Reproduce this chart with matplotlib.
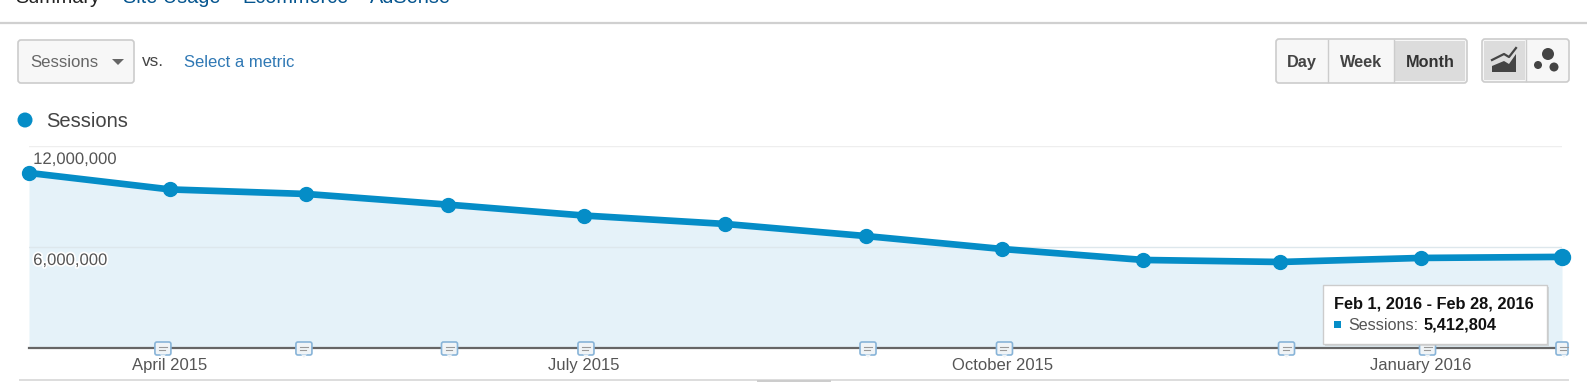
import datetime as dt
import matplotlib
matplotlib.use("Agg")
import matplotlib.pyplot as plt
import matplotlib.dates as mdates
import matplotlib.patheffects as pe
from matplotlib.patches import FancyBboxPatch, Polygon, Circle, Rectangle

plt.rcParams['font.family'] = ['Liberation Sans', 'DejaVu Sans']

# data
months = [dt.date(2015, 3, 1), dt.date(2015, 4, 1), dt.date(2015, 5, 1), dt.date(2015, 6, 1),
          dt.date(2015, 7, 1), dt.date(2015, 8, 1), dt.date(2015, 9, 1), dt.date(2015, 10, 1),
          dt.date(2015, 11, 1), dt.date(2015, 12, 1), dt.date(2016, 1, 1), dt.date(2016, 2, 1)]
sessions = [10400000, 9420000, 9150000, 8520000, 7870000, 7370000,
            6650000, 5880000, 5230000, 5110000, 5350000, 5412804]
y_ticks = [6000000, 12000000]
y_tick_labels = ['6,000,000', '12,000,000']
x_ticks = [dt.date(2015, 4, 1), dt.date(2015, 7, 1), dt.date(2015, 10, 1), dt.date(2016, 1, 1)]
x_tick_labels = ['April 2015', 'July 2015', 'October 2015', 'January 2016']
note_dates = [dt.date(2015, 3, 30), dt.date(2015, 4, 30), dt.date(2015, 6, 1), dt.date(2015, 7, 1),
              dt.date(2015, 9, 1), dt.date(2015, 10, 1), dt.date(2015, 12, 2), dt.date(2016, 1, 2),
              dt.date(2016, 2, 1)]
tabs = ['Summary', 'Site Usage', 'Ecommerce', 'AdSense']
tab_x = [15, 123, 242, 370]

W, H = 1587, 382
BLUE = '#058dc7'
LINK = '#2f78b4'
TXT = '#555555'

fig = plt.figure(figsize=(W / 100, H / 100), dpi=100, facecolor='white')

# chart, placed in pixels
left, right, top, bottom = 29, 1562, 146, 348
ax = fig.add_axes([left / W, 1 - bottom / H, (right - left) / W, (bottom - top) / H])
x = mdates.date2num(months)
ax.fill_between(x, sessions, 0, color='#e5f2f9', lw=0, zorder=1)
ax.plot(x, sessions, color=BLUE, lw=4.8, marker='o', ms=10, solid_capstyle='round', clip_on=False, zorder=4)
ax.plot(x[-1:], sessions[-1:], color=BLUE, marker='o', ms=11.5, clip_on=False, zorder=4)
ax.set_xlim(x[0], x[-1])
ax.set_ylim(0, 12000000)
ax.patch.set_alpha(0)
for s in ['left', 'right', 'top']:
    ax.spines[s].set_visible(False)
ax.spines['bottom'].set_color('#666666')
ax.spines['bottom'].set_linewidth(1.6)
ax.spines['bottom'].set_zorder(5)
ax.set_yticks(y_ticks, ['', ''])
ax.get_ygridlines()[0].set_color('#dde7ec')
ax.grid(axis='y', lw=1, zorder=2)
ax.get_ygridlines()[0].set_color('#dde7ec')
ax.get_ygridlines()[1].set_color('#eeeeee')
ax.set_axisbelow(False)
ax.tick_params(axis='y', length=0)
for val, lab in zip(y_ticks, y_tick_labels):
    ax.annotate(lab, (0, val), xycoords=('axes fraction', 'data'), xytext=(3, -4.3), textcoords='offset points',
                ha='left', va='top', fontsize=12, color=TXT, zorder=6,
                path_effects=[pe.withStroke(linewidth=2.5, foreground='white')])
ax.set_xticks(mdates.date2num(x_ticks), x_tick_labels)
ax.tick_params(axis='x', length=0, pad=7, labelsize=12, labelcolor=TXT)

# page furniture in pixel coords
ui = fig.add_axes([0, 0, 1, 1], zorder=10)
ui.set_xlim(0, W)
ui.set_ylim(H, 0)
ui.axis('off')
ui.patch.set_alpha(0)


def box(x0, y0, x1, y1, fc='#f7f7f7', ec='#cccccc', r=3, z=2, lw=1.2):
    ui.add_patch(FancyBboxPatch((x0 + r, y0 + r), x1 - x0 - 2 * r, y1 - y0 - 2 * r,
                                boxstyle='round,pad=%d,rounding_size=%d' % (r, r),
                                fc=fc, ec=ec, lw=lw, zorder=z))


# the tab row is cut by the top of the picture, as in the reference
for t, tx in zip(tabs, tab_x):
    ui.text(tx, 3, t, fontsize=14.3, color='#222222' if t == 'Summary' else '#05558f', va='baseline')
ui.plot([0, W], [23, 23], color='#d0d0d0', lw=1.6)
ui.plot([20, 1568], [380, 380], color='#dddddd', lw=1.4)
ui.plot([758, 830], [381, 381], color='#cccccc', lw=1.4)

# metric selector
box(18, 40, 134, 83)
ui.text(30, 62.5, 'Sessions', fontsize=12.1, color='#666666', va='center')
ui.add_patch(Polygon([[112, 59], [124, 59], [118, 65]], fc='#666666', ec='none', zorder=3))
ui.text(142, 61, 'vs.', fontsize=12.4, color='#444444', va='center')
ui.text(184, 62.5, 'Select a metric', fontsize=12, color=LINK, va='center')

# legend
ui.add_patch(Circle((25, 120), 7.5, fc=BLUE, ec='none'))
ui.text(46, 121.5, 'Sessions', fontsize=14.5, color='#444444', va='center')

# day / week / month
box(1276, 39, 1467, 83)
ui.add_patch(Rectangle((1395, 41), 70, 40, fc='#dcdcdc', ec='none', zorder=3))
ui.plot([1328, 1328], [40, 82], color='#cccccc', lw=1, zorder=4)
ui.plot([1394, 1394], [40, 82], color='#cccccc', lw=1, zorder=4)
ui.text(1302, 62.5, 'Day', fontsize=11.7, fontweight='bold', color='#444444', ha='center', va='center', zorder=5)
ui.text(1361, 62.5, 'Week', fontsize=11.7, fontweight='bold', color='#444444', ha='center', va='center', zorder=5)
ui.text(1430, 62.5, 'Month', fontsize=11.7, fontweight='bold', color='#333333', ha='center', va='center', zorder=5)

# chart type buttons
box(1482, 39, 1569, 82)
ui.add_patch(Rectangle((1484, 41), 41, 39, fc='#dcdcdc', ec='none', zorder=3))
ui.plot([1526, 1526], [40, 81], color='#cccccc', lw=1, zorder=4)
ui.add_patch(Polygon([[1492, 72], [1492, 66], [1504, 61], [1509, 64], [1516, 54], [1516, 72]],
                     fc='#444444', ec='none', zorder=5))
ui.plot([1492, 1504, 1509, 1516], [60, 54, 57, 48], color='#444444', lw=1.6, zorder=5)
ui.add_patch(Circle((1548, 54), 6, fc='#444444', ec='none', zorder=5))
ui.add_patch(Circle((1538, 65), 4, fc='#444444', ec='none', zorder=5))
ui.add_patch(Circle((1554, 67), 4.5, fc='#444444', ec='none', zorder=5))

# annotation markers on the axis line
for d in note_dates:
    nx = left + (mdates.date2num(d) - x[0]) / (x[-1] - x[0]) * (right - left) + 2
    box(nx - 8, 342, min(nx + 8, 1568), 355, fc='#f0f4f7', ec='#88b4d8', r=2, z=6)
    ui.add_patch(Polygon([[nx - 3, 354.5], [nx + 3, 354.5], [nx, 358]], fc='#f0f4f7', ec='none', zorder=7))
    ui.plot([nx - 4, nx + 4], [347, 347], color='#999999', lw=0.8, zorder=7)
    ui.plot([nx - 4, min(nx + 2, 1568)], [350, 350], color='#999999', lw=0.8, zorder=7)

# tooltip
ui.add_patch(Rectangle((1325, 287), 224, 59, fc='#bbbbbb', ec='none', alpha=0.5, zorder=7))
ui.add_patch(Rectangle((1323, 285), 224, 59, fc='white', ec='#cccccc', lw=1, zorder=8))
ui.text(1334, 304, 'Feb 1, 2016 - Feb 28, 2016', fontsize=11.8, fontweight='bold', color='#111111', va='center', zorder=9)
ui.add_patch(Rectangle((1334, 321), 7, 7, fc=BLUE, ec='none', zorder=9))
ui.text(1348, 325, 'Sessions:', fontsize=11.6, color='#555555', va='center', zorder=9)
ui.text(1424, 325, '5,412,804', fontsize=11.8, fontweight='bold', color='#111111', va='center', zorder=9)

fig.savefig('out.png', dpi=100)
